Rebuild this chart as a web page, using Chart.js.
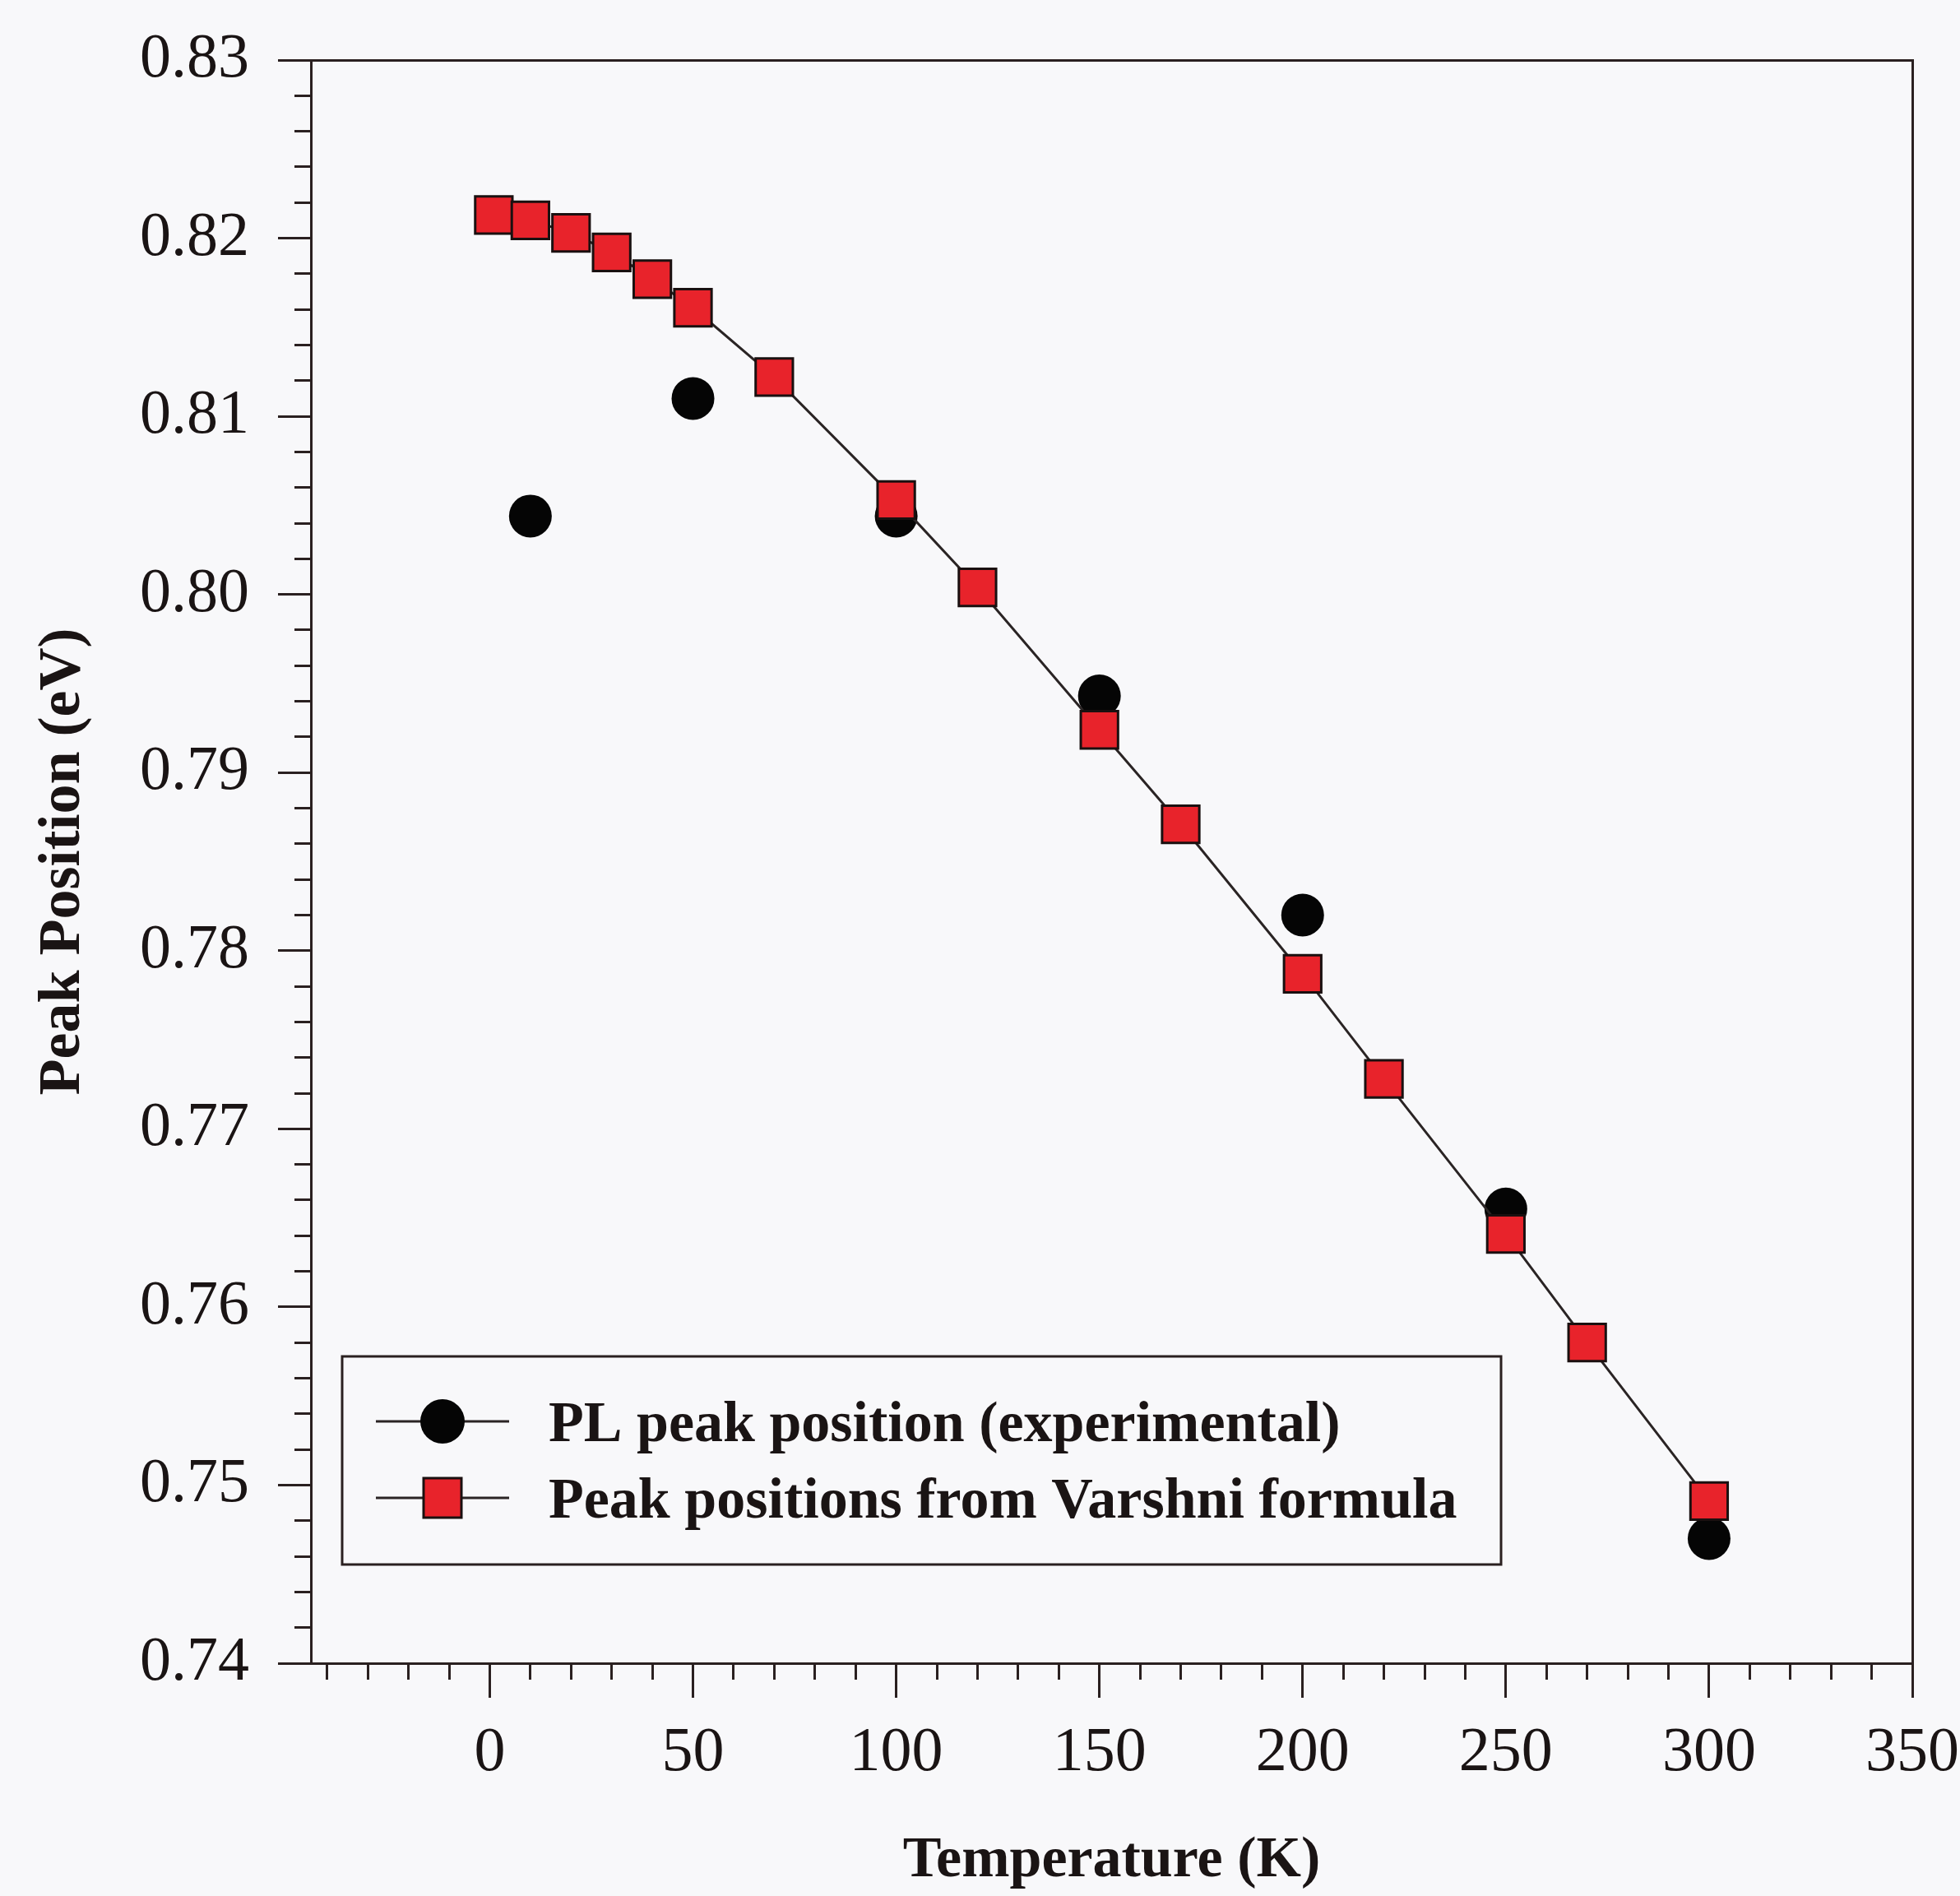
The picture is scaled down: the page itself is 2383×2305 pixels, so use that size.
<!DOCTYPE html>
<html>
<head>
<meta charset="utf-8">
<script src="https://cdn.jsdelivr.net/npm/chart.js@4.4.1/dist/chart.umd.min.js"></script>
<style>
  body { margin: 0; background: #f8f8fa; }
  #wrap { width: 2383px; height: 2305px; }
</style>
</head>
<body>
<div id="wrap"><canvas id="chart"></canvas></div>
<script>
// temperature (K) and PL peak position (eV)
const tempExp = [10, 50, 100, 150, 200, 250, 300];
const peakExp = [0.8044, 0.8110, 0.8044, 0.7943, 0.7820, 0.7655, 0.7470];

const tempVarshni = [1, 10, 20, 30, 40, 50, 70, 100, 120, 150, 170, 200, 220, 250, 270, 300];
const peakVarshni = [0.8213, 0.8210, 0.8203, 0.8192, 0.8177, 0.8161, 0.8122, 0.8053,
  0.8004, 0.7924, 0.7871, 0.7787, 0.7728, 0.7641, 0.7580, 0.7491];

const xTickLabels = ["0", "50", "100", "150", "200", "250", "300", "350"];
const yTickLabels = ["0.74", "0.75", "0.76", "0.77", "0.78", "0.79", "0.80", "0.81", "0.82", "0.83"];

const seriesNames = ["PL peak position (experimental)", "Peak positions from Varshni formula"];

const X_MIN = -44, X_MAX = 350;
const Y_MIN = 0.74, Y_MAX = 0.83;

const axisColor = "#2a2020";
const textColor = "#1a1414";
const serif = "'Times New Roman', 'Liberation Serif', serif";

function toPoints(xs, ys) {
  return xs.map((x, i) => ({ x: x, y: ys[i] }));
}

// minor tick positions (every 10 K, every 0.002 eV)
function minorTicks(from, to, step) {
  let list = [];
  let n = Math.round((to - from) / step);
  for (let i = 0; i <= n; i++) {
    list.push({ value: +(from + i * step).toFixed(4) });
  }
  return list;
}

// legend drawn inside the plot, with the line through the marker
const insideLegend = {
  id: "insideLegend",
  afterDraw(chart) {
    const ctx = chart.ctx;
    const area = chart.chartArea;
    const left = area.left + 38;
    const top = 1649;
    const w = 1409;
    const h = 253;
    ctx.save();
    ctx.strokeStyle = axisColor;
    ctx.lineWidth = 3;
    ctx.strokeRect(left, top, w, h);

    const rows = [
      { ds: chart.data.datasets[1], y: top + 79 },
      { ds: chart.data.datasets[0], y: top + 172 },
    ];
    rows.forEach((row) => {
      const ds = row.ds;
      const cx = left + 122;
      ctx.strokeStyle = "#2a2424";
      ctx.lineWidth = 3;
      ctx.beginPath();
      ctx.moveTo(left + 41, row.y);
      ctx.lineTo(left + 203, row.y);
      ctx.stroke();

      ctx.fillStyle = ds.backgroundColor;
      ctx.strokeStyle = ds.borderColor;
      ctx.lineWidth = ds.pointBorderWidth;
      if (ds.pointStyle === "rect") {
        ctx.fillRect(cx - 23, row.y - 24, 46, 48);
        ctx.strokeStyle = ds.pointBorderColor;
        ctx.strokeRect(cx - 23, row.y - 24, 46, 48);
      } else {
        ctx.beginPath();
        ctx.arc(cx, row.y, 27, 0, Math.PI * 2);
        ctx.fill();
      }

      ctx.fillStyle = textColor;
      ctx.font = "bold 70px " + serif;
      ctx.textBaseline = "middle";
      ctx.textAlign = "left";
      ctx.fillText(ds.label, left + 251, row.y + 6);
    });
    ctx.restore();
  },
};

const ctx = document.getElementById("chart");

new Chart(ctx, {
  type: "scatter",
  data: {
    datasets: [
      {
        label: seriesNames[1],
        data: toPoints(tempVarshni, peakVarshni),
        showLine: true,
        borderColor: "#2a2424",
        borderWidth: 3,
        backgroundColor: "#e8232b",
        pointStyle: "rect",
        pointRadius: 32,
        pointBorderWidth: 3,
        pointBorderColor: "#1a1010",
        xAxisID: "x",
        yAxisID: "y",
      },
      {
        label: seriesNames[0],
        data: toPoints(tempExp, peakExp),
        showLine: false,
        borderColor: "#000000",
        backgroundColor: "#050505",
        pointStyle: "circle",
        pointRadius: 26,
        pointBorderWidth: 0,
        xAxisID: "x",
        yAxisID: "y",
      },
    ],
  },
  options: {
    responsive: true,
    maintainAspectRatio: false,
    animation: false,
    events: [],
    layout: { padding: { top: 73, right: 58, left: 0, bottom: 0 } },
    plugins: {
      legend: { display: false },
      tooltip: { enabled: false },
    },
    scales: {
      // major x ticks with labels
      x: {
        type: "linear",
        position: "bottom",
        weight: 1,
        min: X_MIN,
        max: X_MAX,
        afterBuildTicks: (scale) => {
          scale.ticks = xTickLabels.map((t) => ({ value: Number(t) }));
        },
        afterFit: (scale) => {
          scale.height = 283;
          scale.paddingLeft = 0;
          scale.paddingRight = 0;
        },
        ticks: {
          autoSkip: false,
          maxRotation: 0,
          padding: 22,
          color: textColor,
          font: { family: serif, size: 76 },
          callback: (value, index) => xTickLabels[index],
        },
        grid: {
          drawOnChartArea: false,
          tickLength: 42,
          tickWidth: 3,
          tickColor: axisColor,
        },
        border: { display: true, color: axisColor, width: 3 },
        title: {
          display: true,
          text: "Temperature (K)",
          color: textColor,
          font: { family: serif, size: 70, weight: "bold" },
          padding: { top: 0, bottom: 0 },
        },
      },
      // minor x ticks
      xMinor: {
        type: "linear",
        position: "bottom",
        weight: 0,
        min: X_MIN,
        max: X_MAX,
        afterBuildTicks: (scale) => {
          scale.ticks = minorTicks(-40, 350, 10);
        },
        afterFit: (scale) => {
          scale.height = 0;
          scale.paddingLeft = 0;
          scale.paddingRight = 0;
        },
        ticks: { display: false },
        grid: {
          drawOnChartArea: false,
          tickLength: 20,
          tickWidth: 3,
          tickColor: axisColor,
        },
        border: { display: false },
      },
      xTop: {
        type: "linear",
        position: "top",
        min: X_MIN,
        max: X_MAX,
        afterFit: (scale) => {
          scale.height = 0;
        },
        ticks: { display: false },
        grid: { drawOnChartArea: false, drawTicks: false },
        border: { display: true, color: axisColor, width: 3 },
      },
      // major y ticks with labels
      y: {
        type: "linear",
        position: "left",
        weight: 1,
        min: Y_MIN,
        max: Y_MAX,
        afterBuildTicks: (scale) => {
          scale.ticks = yTickLabels.map((t) => ({ value: Number(t) }));
        },
        afterFit: (scale) => {
          scale.width = 378;
          scale.paddingTop = 0;
          scale.paddingBottom = 0;
        },
        ticks: {
          autoSkip: false,
          padding: 35,
          color: textColor,
          font: { family: serif, size: 76 },
          callback: (value, index) => yTickLabels[index],
        },
        grid: {
          drawOnChartArea: false,
          tickLength: 40,
          tickWidth: 3,
          tickColor: axisColor,
        },
        border: { display: true, color: axisColor, width: 3 },
        title: {
          display: true,
          text: "Peak Position (eV)",
          color: textColor,
          font: { family: serif, size: 72, weight: "bold" },
          padding: { top: 34, bottom: 0 },
        },
      },
      // minor y ticks
      yMinor: {
        type: "linear",
        position: "left",
        weight: 0,
        min: Y_MIN,
        max: Y_MAX,
        afterBuildTicks: (scale) => {
          scale.ticks = minorTicks(0.74, 0.83, 0.002);
        },
        afterFit: (scale) => {
          scale.width = 0;
          scale.paddingTop = 0;
          scale.paddingBottom = 0;
        },
        ticks: { display: false },
        grid: {
          drawOnChartArea: false,
          tickLength: 20,
          tickWidth: 3,
          tickColor: axisColor,
        },
        border: { display: false },
      },
      yRight: {
        type: "linear",
        position: "right",
        min: Y_MIN,
        max: Y_MAX,
        afterFit: (scale) => {
          scale.width = 0;
        },
        ticks: { display: false },
        grid: { drawOnChartArea: false, drawTicks: false },
        border: { display: true, color: axisColor, width: 3 },
      },
    },
  },
  plugins: [insideLegend],
});
</script>
</body>
</html>
